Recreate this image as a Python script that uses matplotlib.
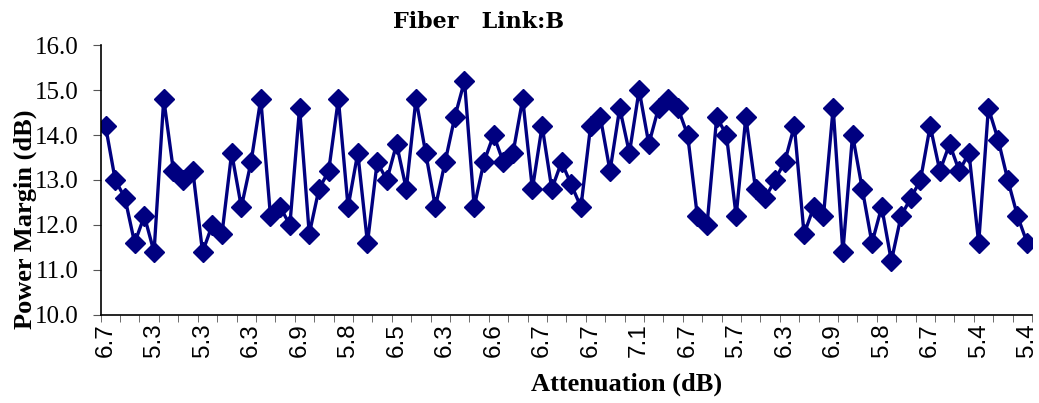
import numpy as np
import matplotlib.pyplot as plt

margin = [14.2, 13.0, 12.6, 11.6, 12.2, 11.4, 14.8, 13.2, 13.0, 13.2,
          11.4, 12.0, 11.8, 13.6, 12.4, 13.4, 14.8, 12.2, 12.4, 12.0,
          14.6, 11.8, 12.8, 13.2, 14.8, 12.4, 13.6, 11.6, 13.4, 13.0,
          13.8, 12.8, 14.8, 13.6, 12.4, 13.4, 14.4, 15.2, 12.4, 13.4,
          14.0, 13.4, 13.6, 14.8, 12.8, 14.2, 12.8, 13.4, 12.9, 12.4,
          14.2, 14.4, 13.2, 14.6, 13.6, 15.0, 13.8, 14.6, 14.8, 14.6,
          14.0, 12.2, 12.0, 14.4, 14.0, 12.2, 14.4, 12.8, 12.6, 13.0,
          13.4, 14.2, 11.8, 12.4, 12.2, 14.6, 11.4, 14.0, 12.8, 11.6,
          12.4, 11.2, 12.2, 12.6, 13.0, 14.2, 13.2, 13.8, 13.2, 13.6,
          11.6, 14.6, 13.9, 13.0, 12.2, 11.6]

# attenuation labels shown every 5th point
atten_labels = ['6.7', '5.3', '5.3', '6.3', '6.9', '5.8', '6.5', '6.3', '6.6', '6.7',
                '6.7', '7.1', '6.7', '5.7', '6.3', '6.9', '5.8', '6.7', '5.4', '5.4']

n = len(margin)
x = np.arange(n)

fig = plt.figure(figsize=(10.39, 4.03), dpi=100)
ax = fig.add_axes([0.0969, 0.2184, 0.8964, 0.6699])

ax.plot(x, margin, color='#000080', lw=2.4, marker='D', ms=10,
        mec='#000080', mfc='#000080')

ax.set_xlim(-0.5, n - 0.5)
ax.set_ylim(10, 16)
ax.set_yticks(np.arange(10, 16.1, 1.0))
ax.set_yticklabels(['%.1f' % v for v in np.arange(10, 16.1, 1.0)],
                   family='Liberation Serif', fontsize=18)

ax.set_xticks(np.arange(0, n, 5))
ax.set_xticklabels(atten_labels, rotation=90, family='Liberation Sans', fontsize=17.5)
ax.set_xticks(np.arange(-0.5, n, 2), minor=True)
ax.tick_params(axis='x', which='major', length=0, pad=6)
ax.tick_params(axis='x', which='minor', length=5, color='#555555')
ax.tick_params(axis='y', length=6, color='#555555', pad=10)

for s in ['top', 'right']:
    ax.spines[s].set_visible(False)
ax.spines['left'].set_linewidth(1.2)
ax.spines['bottom'].set_linewidth(1.2)

ax.set_xlabel('Attenuation (dB)', family='Liberation Serif', fontweight='bold',
              fontsize=19)
ax.xaxis.set_label_coords(0.565, -0.256)
ax.xaxis.label.set_va('center')
ax.set_ylabel('Power Margin (dB)', family='Liberation Serif', fontweight='bold',
              fontsize=19)
ax.yaxis.set_label_coords(-0.081, 0.356)
ax.yaxis.label.set_va('center')
fig.text(0.461, 0.945, 'Fiber   Link:B', family='DejaVu Serif', fontweight='bold',
         fontsize=16, ha='center', va='center')

fig.savefig('out.png', dpi=100)
